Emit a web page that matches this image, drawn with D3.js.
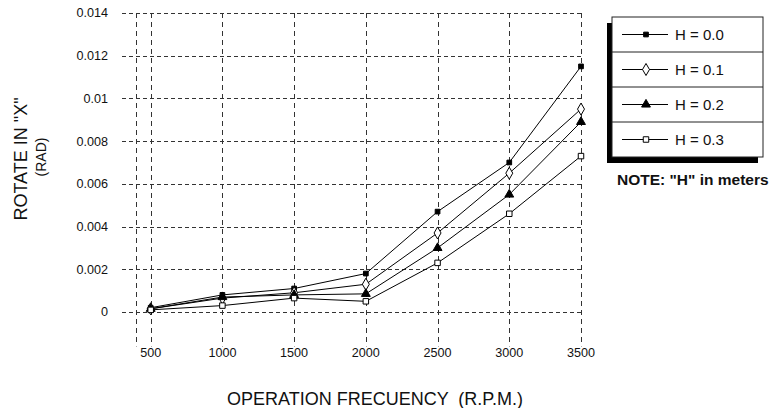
<!DOCTYPE html>
<html>
<head>
<meta charset="utf-8">
<script src="https://cdn.jsdelivr.net/npm/d3@7"></script>
<style>
  html, body { margin: 0; padding: 0; background: #fff; }
  svg { display: block; font-family: "Liberation Sans", Arial, sans-serif; }
  text { white-space: pre; }
</style>
</head>
<body>
<svg id="chart" width="777" height="408"></svg>
<script>
// ---- data ----
const categories = [500, 1000, 1500, 2000, 2500, 3000, 3500];
const h00 = [0.0002, 0.0008, 0.0011, 0.0018, 0.0047, 0.0070, 0.0115];
const h01 = [0.00015, 0.00065, 0.0009, 0.0013, 0.0037, 0.0065, 0.0095];
const h02 = [0.00015, 0.0007, 0.0008, 0.00085, 0.0030, 0.0055, 0.0089];
const h03 = [0.0001, 0.0003, 0.00065, 0.0005, 0.0023, 0.0046, 0.0073];
const seriesNames = ["H = 0.0", "H = 0.1", "H = 0.2", "H = 0.3"];
const yTicks = [0, 0.002, 0.004, 0.006, 0.008, 0.01, 0.012, 0.014];
const yTickLabels = ["0", "0.002", "0.004", "0.006", "0.008", "0.01", "0.012", "0.014"];
const xTickLabels = ["500", "1000", "1500", "2000", "2500", "3000", "3500"];
const extraGridX = [400];
const yTitle = "ROTATE IN \"X\"";
const yUnit = "(RAD)";
const xTitle = "OPERATION FRECUENCY  (R.P.M.)";
const note = "NOTE: \"H\" in meters";

const series = [h00, h01, h02, h03];

// ---- styles ----
const markerDefs = [
  { type: d3.symbolSquare, size: 22, fill: "#000" },
  { type: d3.symbolDiamond, size: 42, fill: "#fff" },
  { type: d3.symbolTriangle, size: 34, fill: "#000" },
  { type: d3.symbolSquare, size: 30, fill: "#fff" }
];

const svg = d3.select("#chart");

const x = d3.scaleLinear().domain([300, 3500]).range([122, 581]);
const y = d3.scaleLinear().domain([0, 0.014]).range([312, 13]);
const yBottom = y(-0.00161);

const grid = svg.append("g").attr("stroke", "#333").attr("stroke-width", 1)
  .attr("stroke-dasharray", "4,3").attr("fill", "none");

// horizontal gridlines
grid.selectAll("line.h").data(yTicks).join("line")
  .attr("class", "h")
  .attr("x1", x(300)).attr("x2", x(3500))
  .attr("y1", d => Math.round(y(d)) + 0.5).attr("y2", d => Math.round(y(d)) + 0.5);

// vertical gridlines
grid.selectAll("line.v").data(extraGridX.concat(categories)).join("line")
  .attr("class", "v")
  .attr("x1", d => Math.round(x(d)) + 0.5).attr("x2", d => Math.round(x(d)) + 0.5)
  .attr("y1", y(0.014)).attr("y2", yBottom)
  .attr("stroke-dasharray", "5,4");

// y tick labels
svg.append("g").selectAll("text").data(yTicks).join("text")
  .attr("x", 108).attr("y", d => y(d))
  .attr("dy", "0.35em").attr("text-anchor", "end")
  .attr("font-size", "12.6px").attr("fill", "#111")
  .text((d, i) => yTickLabels[i]);

// x tick labels
svg.append("g").selectAll("text").data(categories).join("text")
  .attr("x", d => x(d)).attr("y", 353)
  .attr("dy", "0.35em").attr("text-anchor", "middle")
  .attr("font-size", "12.6px").attr("fill", "#111")
  .text((d, i) => xTickLabels[i]);

// axis titles
svg.append("text")
  .attr("transform", "translate(27,159) rotate(-90)")
  .attr("text-anchor", "middle").attr("font-size", "18px").attr("fill", "#111")
  .text(yTitle);
svg.append("text")
  .attr("transform", "translate(46,157) rotate(-90)")
  .attr("text-anchor", "middle").attr("font-size", "14px").attr("fill", "#111")
  .text(yUnit);
svg.append("text")
  .attr("x", 375).attr("y", 405)
  .attr("text-anchor", "middle").attr("font-size", "18px").attr("fill", "#111")
  .text(xTitle);

// series lines
const line = d3.line().x((d, i) => x(categories[i])).y(d => y(d));
svg.append("g").selectAll("path").data(series).join("path")
  .attr("d", d => line(d))
  .attr("fill", "none").attr("stroke", "#000").attr("stroke-width", 1);

// markers
series.forEach((s, si) => {
  const m = markerDefs[si];
  svg.append("g").selectAll("path").data(s).join("path")
    .attr("transform", (d, i) => `translate(${x(categories[i])},${y(d)})`)
    .attr("d", d3.symbol().type(m.type).size(m.size))
    .attr("fill", m.fill).attr("stroke", "#000").attr("stroke-width", 1);
});

// legend
const lg = svg.append("g");
const lx = 612, ly = 17, lw = 151, lh = 140;
lg.append("rect").attr("x", lx - 5).attr("y", ly + 6).attr("width", lw).attr("height", lh).attr("fill", "#000");
lg.append("rect").attr("x", lx).attr("y", ly).attr("width", lw).attr("height", lh)
  .attr("fill", "#fff").attr("stroke", "#222").attr("stroke-width", 1);
const rowH = lh / seriesNames.length;
seriesNames.forEach((name, i) => {
  const cy = ly + rowH * i + rowH / 2;
  if (i > 0) {
    lg.append("line").attr("x1", lx).attr("x2", lx + lw)
      .attr("y1", ly + rowH * i).attr("y2", ly + rowH * i)
      .attr("stroke", "#222").attr("stroke-width", 1);
  }
  lg.append("line").attr("x1", 622).attr("x2", 668).attr("y1", cy).attr("y2", cy)
    .attr("stroke", "#000").attr("stroke-width", 1);
  const m = markerDefs[i];
  lg.append("path").attr("transform", `translate(646,${cy})`)
    .attr("d", d3.symbol().type(m.type).size(m.size))
    .attr("fill", m.fill).attr("stroke", "#000").attr("stroke-width", 1);
  lg.append("text").attr("x", 675).attr("y", cy).attr("dy", "0.35em")
    .attr("font-size", "15px").attr("fill", "#111").text(name);
});
svg.append("text").attr("x", 617).attr("y", 180).attr("dy", "0.35em")
  .attr("font-size", "15.5px").attr("font-weight", "bold").attr("fill", "#111")
  .text(note);
</script>
</body>
</html>
